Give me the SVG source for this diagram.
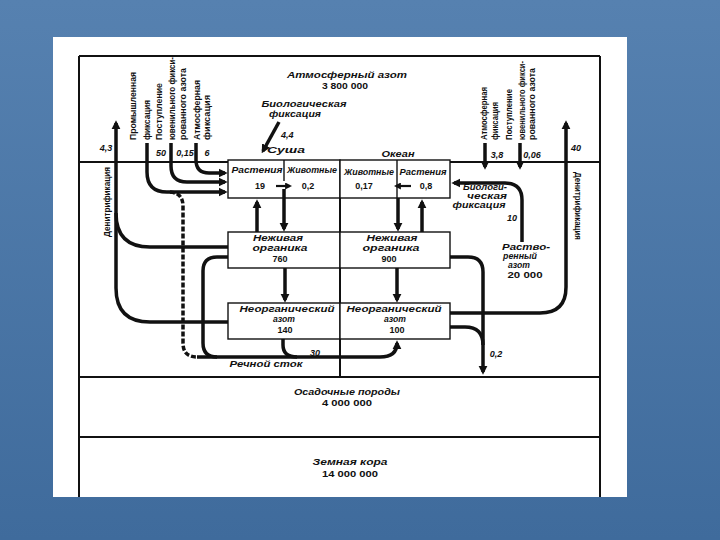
<svg xmlns="http://www.w3.org/2000/svg" width="720" height="540" viewBox="0 0 720 540">
<defs>
<linearGradient id="bg" x1="0" y1="0" x2="0" y2="1">
<stop offset="0" stop-color="#5681B0"/>
<stop offset="1" stop-color="#3F6B9C"/>
</linearGradient>
<marker id="ah" viewBox="0 0 10 10" refX="7" refY="5" markerWidth="9" markerHeight="10" markerUnits="userSpaceOnUse" orient="auto">
<path d="M0,0 L10,5 L0,10 z" fill="#111"/>
</marker>
<marker id="sm" viewBox="0 0 10 10" refX="7" refY="5" markerWidth="7" markerHeight="7" markerUnits="userSpaceOnUse" orient="auto">
<path d="M0,0 L10,5 L0,10 z" fill="#111"/>
</marker>
<style>
.t{font-family:"Liberation Sans",Arial,sans-serif;font-style:italic;font-weight:bold;font-size:9px;fill:#111;text-anchor:middle}
.s{text-anchor:start}
.up{font-style:normal}
.v{font-family:"Liberation Sans",Arial,sans-serif;font-weight:bold;font-size:9px;fill:#111}
.fr{fill:none;stroke:#111;stroke-width:2}
.bx{fill:#fff;stroke:#111;stroke-width:1.4}
.f{fill:none;stroke:#111;stroke-width:3.5}
.fa{fill:none;stroke:#111;stroke-width:3.5;marker-end:url(#ah)}
.fs{fill:none;stroke:#111;stroke-width:2.2;marker-end:url(#sm)}
.d{fill:none;stroke:#111;stroke-width:3.5;stroke-dasharray:5 2}
</style>
</defs>
<rect x="0" y="0" width="720" height="540" fill="url(#bg)"/>
<rect x="53" y="37" width="574" height="460" fill="#fff"/>

<g id="frame">
<path class="fr" d="M79,56 H600 M79,56 V497 M600,56 V497 M79,162 H228 M450,162 H600 M340,198 V377 M79,377 H600 M79,437 H600"/>
</g>

<g id="atmosphere">
<text class="t" x="347" y="78" textLength="120" lengthAdjust="spacingAndGlyphs">Атмосферный азот</text>
<text class="t up" x="345" y="89" textLength="46" lengthAdjust="spacingAndGlyphs">3 800 000</text>
</g>

<g id="bio-fix-land">
<text class="t" x="304" y="107" textLength="85" lengthAdjust="spacingAndGlyphs">Биологическая</text>
<text class="t" x="295" y="117" textLength="52" lengthAdjust="spacingAndGlyphs">фиксация</text>
<text class="t s" x="281" y="138">4,4</text>
</g>

<g id="land-label"><text class="t" x="286" y="153" textLength="38" lengthAdjust="spacingAndGlyphs">Суша</text></g>
<g id="ocean-label"><text class="t" x="398" y="157" textLength="33" lengthAdjust="spacingAndGlyphs">Океан</text></g>

<g id="left-vertical-labels">
<text class="v" transform="translate(136,140) rotate(-90)" textLength="68" lengthAdjust="spacingAndGlyphs">Промышленная</text>
<text class="v" transform="translate(150,140) rotate(-90)" textLength="40" lengthAdjust="spacingAndGlyphs">фиксация</text>
<text class="v" transform="translate(162,140) rotate(-90)" textLength="57" lengthAdjust="spacingAndGlyphs">Поступление</text>
<text class="v" transform="translate(175,140) rotate(-90)" textLength="83" lengthAdjust="spacingAndGlyphs">ювенильного фикси-</text>
<text class="v" transform="translate(186,140) rotate(-90)" textLength="72" lengthAdjust="spacingAndGlyphs">рованного азота</text>
<text class="v" transform="translate(200,140) rotate(-90)" textLength="60" lengthAdjust="spacingAndGlyphs">Атмосферная</text>
<text class="v" transform="translate(210,140) rotate(-90)" textLength="45" lengthAdjust="spacingAndGlyphs">фиксация</text>
</g>

<g id="right-vertical-labels">
<text class="v" transform="translate(487,140) rotate(-90)" textLength="53" lengthAdjust="spacingAndGlyphs">Атмосферная</text>
<text class="v" transform="translate(498,140) rotate(-90)" textLength="38" lengthAdjust="spacingAndGlyphs">фиксация</text>
<text class="v" transform="translate(512,140) rotate(-90)" textLength="51" lengthAdjust="spacingAndGlyphs">Поступление</text>
<text class="v" transform="translate(525,140) rotate(-90)" textLength="79" lengthAdjust="spacingAndGlyphs">ювенильного фикси-</text>
<text class="v" transform="translate(535,140) rotate(-90)" textLength="72" lengthAdjust="spacingAndGlyphs">рованного азота</text>
</g>

<g id="denitrification-left">
<text class="v" transform="translate(110,202) rotate(-90)" text-anchor="middle" textLength="70" lengthAdjust="spacingAndGlyphs">Денитрификация</text>
</g>
<g id="denitrification-right">
<text class="v" transform="translate(575,206) rotate(90)" text-anchor="middle" textLength="68" lengthAdjust="spacingAndGlyphs">Денитрификация</text>
</g>

<g id="flux-labels">
<text class="t" x="106" y="151">4,3</text>
<text class="t" x="161" y="156">50</text>
<text class="t" x="185" y="156">0,15</text>
<text class="t" x="207" y="156">6</text>
<text class="t" x="497" y="158">3,8</text>
<text class="t" x="532" y="158">0,06</text>
<text class="t" x="576" y="151">40</text>
<text class="t" x="512" y="221">10</text>
<text class="t" x="315" y="356">30</text>
<text class="t" x="496" y="357">0,2</text>
</g>

<g id="land-biota">
<rect class="bx" x="228" y="160" width="112" height="38"/>
<line x1="284" y1="160" x2="284" y2="181" stroke="#111" stroke-width="1.4"/>
<text class="t" x="257" y="173" textLength="51" lengthAdjust="spacingAndGlyphs">Растения</text>
<text class="t" x="312" y="173" textLength="50" lengthAdjust="spacingAndGlyphs">Животные</text>
<text class="t up" x="260" y="189">19</text>
<text class="t up" x="308" y="189">0,2</text>
</g>

<g id="ocean-biota">
<rect class="bx" x="340" y="160" width="110" height="38"/>
<line x1="397" y1="160" x2="397" y2="198" stroke="#111" stroke-width="1.4"/>
<text class="t" x="369" y="175" textLength="50" lengthAdjust="spacingAndGlyphs">Животные</text>
<text class="t" x="423" y="175" textLength="47" lengthAdjust="spacingAndGlyphs">Растения</text>
<text class="t up" x="364" y="189">0,17</text>
<text class="t up" x="426" y="189">0,8</text>
</g>

<g id="land-organic">
<rect class="bx" x="228" y="232" width="112" height="36"/>
<text class="t" x="278" y="241" textLength="50" lengthAdjust="spacingAndGlyphs">Неживая</text>
<text class="t" x="280" y="251" textLength="55" lengthAdjust="spacingAndGlyphs">органика</text>
<text class="t up" x="280" y="262">760</text>
</g>

<g id="ocean-organic">
<rect class="bx" x="340" y="232" width="110" height="36"/>
<text class="t" x="392" y="241" textLength="51" lengthAdjust="spacingAndGlyphs">Неживая</text>
<text class="t" x="391" y="251" textLength="57" lengthAdjust="spacingAndGlyphs">органика</text>
<text class="t up" x="389" y="262">900</text>
</g>

<g id="land-inorganic">
<rect class="bx" x="228" y="303" width="112" height="36"/>
<text class="t" x="287" y="312" textLength="95" lengthAdjust="spacingAndGlyphs">Неорганический</text>
<text class="t" x="284" y="322" textLength="22" lengthAdjust="spacingAndGlyphs">азот</text>
<text class="t up" x="285" y="333">140</text>
</g>

<g id="ocean-inorganic">
<rect class="bx" x="340" y="303" width="110" height="36"/>
<text class="t" x="394" y="312" textLength="95" lengthAdjust="spacingAndGlyphs">Неорганический</text>
<text class="t" x="395" y="322" textLength="22" lengthAdjust="spacingAndGlyphs">азот</text>
<text class="t up" x="397" y="333">100</text>
</g>

<g id="river">
<text class="t" x="266" y="367" textLength="73" lengthAdjust="spacingAndGlyphs">Речной сток</text>
</g>

<g id="bio-fix-ocean">
<text class="t" x="485" y="190" textLength="44" lengthAdjust="spacingAndGlyphs">Биологи-</text>
<text class="t" x="487" y="199" textLength="40" lengthAdjust="spacingAndGlyphs">ческая</text>
<text class="t" x="479" y="208" textLength="53" lengthAdjust="spacingAndGlyphs">фиксация</text>
</g>

<g id="dissolved">
<text class="t" x="526" y="250" textLength="48" lengthAdjust="spacingAndGlyphs">Раство-</text>
<text class="t" x="520" y="259" textLength="34" lengthAdjust="spacingAndGlyphs">ренный</text>
<text class="t" x="519" y="268" textLength="22" lengthAdjust="spacingAndGlyphs">азот</text>
<text class="t up" x="525" y="278" textLength="35" lengthAdjust="spacingAndGlyphs">20 000</text>
</g>

<g id="sediments">
<text class="t" x="347" y="395" textLength="106" lengthAdjust="spacingAndGlyphs">Осадочные породы</text>
<text class="t up" x="347" y="406" textLength="50" lengthAdjust="spacingAndGlyphs">4 000 000</text>
</g>

<g id="crust">
<text class="t" x="350" y="465" textLength="75" lengthAdjust="spacingAndGlyphs">Земная кора</text>
<text class="t up" x="350" y="477" textLength="56" lengthAdjust="spacingAndGlyphs">14 000 000</text>
</g>

<g id="connectors">
<path class="fa" d="M279,122 L263,151" stroke-width="3"/>
<path class="fa" d="M147,143 V172 Q147,192 167,192 H225"/>
<path class="fa" d="M171,143 V166 Q171,182 187,182 H225"/>
<path class="fa" d="M196,143 V160 Q196,173 209,173 H225"/>
<path class="d" d="M170,192 Q183,193 183,206 V343 Q183,357 197,357"/>
<path class="f" d="M228,257 H217 Q203,257 203,271 V343 Q203,357 217,357"/>
<path class="f" d="M283,339 V345 Q283,357 297,357"/>
<path class="fa" d="M197,357 H380 Q397,357 397,343"/>
<path class="fa" d="M228,322 H150 Q116,322 116,288 V123"/>
<path class="f" d="M228,247 H150 Q116,247 116,213"/>
<path class="fa" d="M284,189 V229"/>
<path class="fa" d="M257,232 V202"/>
<path class="fa" d="M398,198 V229"/>
<path class="fa" d="M422,232 V202"/>
<path class="fa" d="M285,268 V300"/>
<path class="fa" d="M397,268 V300"/>
<path class="fs" d="M276,186 H290"/>
<path class="fs" d="M411,186 H396"/>
<path class="fa" d="M522,242 V200 Q522,183 505,183 H454"/>
<path class="fa" d="M450,257 H468 Q483,257 483,272 V372"/>
<path class="f" d="M450,327 H465 Q483,327 483,345"/>
<path class="fa" d="M450,313 H540 Q566,313 566,287 V123"/>
<path class="fa" d="M485,143 V167"/>
<path class="fa" d="M520,143 V167"/>
</g>
</svg>
